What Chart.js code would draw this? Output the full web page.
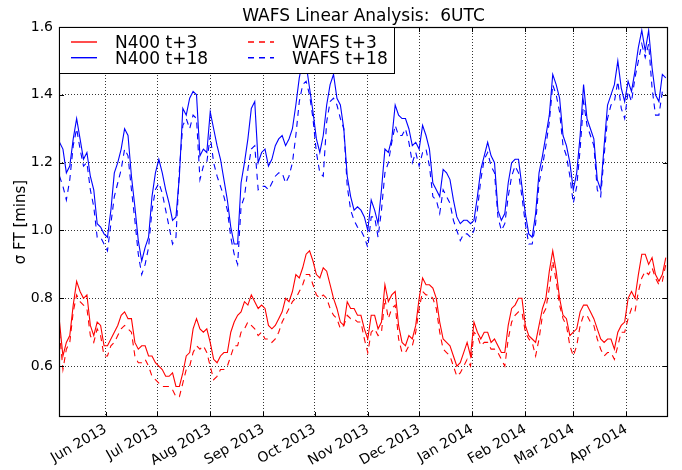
<!DOCTYPE html>
<html>
<head>
<meta charset="utf-8">
<script src="https://cdn.jsdelivr.net/npm/chart.js@4.4.1/dist/chart.umd.min.js"></script>
<style>
  html, body { margin: 0; padding: 0; background: #fff; }
  #chart { display: block; }
</style>
</head>
<body>
<canvas id="chart" width="682" height="470"></canvas>
<script>
// daily-ish series, one value every 2 days from 5 May 2013
const startDate = '2013-05-05';
const stepDays = 2;

const monthTickDates = ['2013-06-01', '2013-07-01', '2013-08-01', '2013-09-01', '2013-10-01', '2013-11-01',
  '2013-12-01', '2014-01-01', '2014-02-01', '2014-03-01', '2014-04-01'];
const monthTickLabels = ['Jun 2013', 'Jul 2013', 'Aug 2013', 'Sep 2013', 'Oct 2013', 'Nov 2013',
  'Dec 2013', 'Jan 2014', 'Feb 2014', 'Mar 2014', 'Apr 2014'];
const yTickValues = [0.6, 0.8, 1.0, 1.2, 1.4, 1.6];

const n400t3 = [
  0.73, 0.63, 0.67, 0.69, 0.78, 0.85, 0.82, 0.80, 0.81, 0.72,
  0.69, 0.73, 0.72, 0.66, 0.66, 0.68, 0.70, 0.72, 0.75, 0.76,
  0.74, 0.74, 0.67, 0.65, 0.66, 0.66, 0.63, 0.63, 0.61, 0.60,
  0.59, 0.57, 0.57, 0.58, 0.54, 0.54, 0.58, 0.63, 0.64, 0.71,
  0.74, 0.71, 0.70, 0.71, 0.67, 0.62, 0.61, 0.63, 0.64, 0.64,
  0.70, 0.73, 0.75, 0.76, 0.79, 0.78, 0.81, 0.79, 0.77, 0.78,
  0.77, 0.72, 0.71, 0.72, 0.74, 0.76, 0.80, 0.79, 0.82, 0.87,
  0.86, 0.89, 0.93, 0.94, 0.91, 0.87, 0.86, 0.89, 0.88, 0.84,
  0.80, 0.77, 0.73, 0.72, 0.79, 0.77, 0.77, 0.75, 0.75, 0.71,
  0.68, 0.75, 0.75, 0.71, 0.73, 0.84, 0.79, 0.81, 0.82, 0.72,
  0.67, 0.66, 0.69, 0.68, 0.72, 0.80, 0.86, 0.84, 0.84, 0.83,
  0.80, 0.73, 0.68, 0.67, 0.66, 0.63, 0.60, 0.61, 0.64, 0.67,
  0.63, 0.73, 0.70, 0.68, 0.70, 0.70, 0.67, 0.68, 0.66, 0.64,
  0.64, 0.72, 0.77, 0.78, 0.80, 0.80, 0.72, 0.69, 0.68, 0.67,
  0.72, 0.77, 0.80, 0.88, 0.94, 0.88, 0.80, 0.75, 0.74, 0.69,
  0.70, 0.71, 0.76, 0.78, 0.78, 0.76, 0.74, 0.71, 0.68, 0.67,
  0.68, 0.68, 0.65, 0.70, 0.72, 0.73, 0.80, 0.82, 0.80, 0.87,
  0.93, 0.93, 0.90, 0.92, 0.87, 0.85, 0.87, 0.92
];

const n400t18 = [
  1.26, 1.24, 1.17, 1.19, 1.27, 1.33, 1.27, 1.21, 1.23, 1.16,
  1.12, 1.02, 1.01, 0.99, 0.98, 1.06, 1.17, 1.20, 1.24, 1.30,
  1.28, 1.16, 1.07, 0.97, 0.91, 0.95, 0.98, 1.10, 1.17, 1.21,
  1.17, 1.12, 1.08, 1.03, 1.04, 1.16, 1.36, 1.34, 1.39, 1.41,
  1.40, 1.22, 1.24, 1.23, 1.35, 1.30, 1.25, 1.21, 1.15, 1.09,
  1.01, 0.96, 0.96, 1.14, 1.20, 1.27, 1.36, 1.38, 1.20, 1.23,
  1.24, 1.19, 1.21, 1.25, 1.27, 1.28, 1.25, 1.27, 1.30, 1.37,
  1.45, 1.50, 1.49, 1.42, 1.35, 1.27, 1.23, 1.28, 1.37, 1.43,
  1.46, 1.39, 1.37, 1.30, 1.16, 1.10, 1.06, 1.07, 1.06, 1.04,
  1.00, 1.09, 1.06, 1.02, 1.12, 1.24, 1.23, 1.27, 1.37, 1.34,
  1.33, 1.33, 1.30, 1.25, 1.26, 1.24, 1.31, 1.28, 1.24, 1.14,
  1.12, 1.10, 1.18, 1.17, 1.15, 1.09, 1.04, 1.02, 1.03, 1.03,
  1.02, 1.03, 1.10, 1.18, 1.22, 1.26, 1.22, 1.20, 1.06, 1.03,
  1.05, 1.14, 1.20, 1.21, 1.21, 1.13, 1.05, 0.99, 0.98, 1.05,
  1.17, 1.22, 1.28, 1.34, 1.46, 1.43, 1.39, 1.28, 1.25, 1.20,
  1.12, 1.17, 1.28, 1.43, 1.33, 1.30, 1.27, 1.15, 1.12, 1.25,
  1.37, 1.40, 1.43, 1.50, 1.42, 1.38, 1.44, 1.41, 1.47, 1.54,
  1.59, 1.53, 1.59, 1.48, 1.40, 1.38, 1.46, 1.45
];

const wafsT3 = [
  0.70, 0.59, 0.65, 0.67, 0.76, 0.81, 0.79, 0.78, 0.77, 0.69,
  0.67, 0.71, 0.69, 0.63, 0.63, 0.66, 0.67, 0.69, 0.71, 0.72,
  0.71, 0.70, 0.63, 0.61, 0.61, 0.62, 0.60, 0.57, 0.56, 0.55,
  0.54, 0.54, 0.54, 0.53, 0.51, 0.51, 0.55, 0.59, 0.60, 0.64,
  0.66, 0.65, 0.66, 0.64, 0.60, 0.56, 0.57, 0.59, 0.59, 0.60,
  0.63, 0.66, 0.66, 0.70, 0.71, 0.73, 0.72, 0.71, 0.69, 0.70,
  0.68, 0.68, 0.67, 0.68, 0.70, 0.73, 0.75, 0.77, 0.79, 0.80,
  0.82, 0.84, 0.87, 0.87, 0.84, 0.81, 0.80, 0.81, 0.80, 0.77,
  0.75, 0.74, 0.71, 0.72, 0.75, 0.74, 0.74, 0.73, 0.73, 0.68,
  0.64, 0.70, 0.71, 0.69, 0.70, 0.80, 0.74, 0.77, 0.78, 0.68,
  0.64, 0.64, 0.66, 0.66, 0.70, 0.77, 0.82, 0.81, 0.81, 0.80,
  0.77, 0.70, 0.65, 0.64, 0.63, 0.60, 0.57, 0.58, 0.60, 0.62,
  0.60, 0.70, 0.69, 0.66, 0.67, 0.67, 0.65, 0.65, 0.64, 0.62,
  0.60, 0.68, 0.73, 0.75, 0.76, 0.76, 0.70, 0.68, 0.67, 0.63,
  0.68, 0.75, 0.77, 0.83, 0.91, 0.85, 0.78, 0.74, 0.72, 0.66,
  0.63, 0.66, 0.72, 0.75, 0.75, 0.73, 0.72, 0.68, 0.65, 0.63,
  0.64, 0.64, 0.62, 0.66, 0.70, 0.70, 0.74, 0.77, 0.76, 0.82,
  0.86, 0.88, 0.87, 0.89, 0.86, 0.84, 0.85, 0.90
];

const wafsT18 = [
  1.16, 1.13, 1.09, 1.15, 1.25, 1.30, 1.24, 1.19, 1.20, 1.12,
  1.07, 0.98, 0.98, 0.96, 0.94, 1.02, 1.10, 1.14, 1.18, 1.24,
  1.22, 1.12, 1.03, 0.93, 0.87, 0.90, 0.95, 1.06, 1.12, 1.14,
  1.11, 1.06, 1.01, 0.96, 0.98, 1.18, 1.31, 1.33, 1.30, 1.34,
  1.33, 1.15, 1.19, 1.20, 1.28, 1.20, 1.16, 1.13, 1.10, 1.06,
  0.98, 0.93, 0.90, 1.07, 1.10, 1.18, 1.24, 1.25, 1.12, 1.13,
  1.13, 1.12, 1.14, 1.16, 1.17, 1.17, 1.14, 1.16, 1.20, 1.28,
  1.38, 1.43, 1.44, 1.40, 1.33, 1.23, 1.17, 1.16, 1.32, 1.38,
  1.39, 1.37, 1.33, 1.30, 1.13, 1.06, 1.03, 1.01, 1.00, 0.98,
  0.95, 1.04, 1.04, 0.98, 1.06, 1.17, 1.20, 1.26, 1.31, 1.28,
  1.28, 1.30, 1.26, 1.20, 1.23, 1.19, 1.23, 1.24, 1.19, 1.10,
  1.09, 1.05, 1.12, 1.10, 1.08, 1.03, 1.00, 0.97, 0.99, 0.99,
  0.98, 1.00, 1.06, 1.15, 1.21, 1.23, 1.19, 1.17, 1.04, 1.00,
  1.02, 1.10, 1.16, 1.19, 1.17, 1.10, 1.02, 0.96, 0.96, 1.02,
  1.14, 1.19, 1.25, 1.32, 1.43, 1.40, 1.35, 1.25, 1.22, 1.16,
  1.08, 1.13, 1.24, 1.38, 1.31, 1.28, 1.25, 1.12, 1.10, 1.22,
  1.33, 1.37, 1.38, 1.44, 1.36, 1.33, 1.41, 1.38, 1.45, 1.50,
  1.55, 1.51, 1.55, 1.42, 1.34, 1.34, 1.41, 1.40
];

function dayOffset(iso) {
  return (Date.parse(iso) - Date.parse(startDate)) / 86400000;
}

function toPoints(values) {
  return values.map((v, i) => ({ x: i * stepDays, y: v }));
}

const RED = '#ff0000';
const BLUE = '#0000ff';
const DASH = [6, 5];

// matplotlib-ish extras: title, y label, inward ticks, frame and boxed legend
const mplDecor = {
  id: 'mplDecor',
  afterDraw(chart) {
    const { ctx, chartArea: a, scales } = chart;
    ctx.save();

    ctx.strokeStyle = '#000';
    ctx.lineWidth = 1;
    ctx.setLineDash([]);
    ctx.beginPath();
    scales.x.ticks.forEach(t => {
      const px = Math.round(scales.x.getPixelForValue(t.value)) + 0.5;
      ctx.moveTo(px, a.bottom); ctx.lineTo(px, a.bottom - 5);
      ctx.moveTo(px, a.top); ctx.lineTo(px, a.top + 5);
    });
    scales.y.ticks.forEach(t => {
      const py = Math.round(scales.y.getPixelForValue(t.value)) + 0.5;
      ctx.moveTo(a.left, py); ctx.lineTo(a.left + 5, py);
      ctx.moveTo(a.right, py); ctx.lineTo(a.right - 5, py);
    });
    ctx.stroke();

    ctx.lineWidth = 1.2;
    ctx.strokeRect(a.left + 0.5, a.top + 0.5, a.right - a.left - 1, a.bottom - a.top - 1);

    // title
    ctx.fillStyle = '#000';
    ctx.font = "17px 'DejaVu Sans'";
    ctx.textAlign = 'center';
    ctx.textBaseline = 'alphabetic';
    ctx.fillText('WAFS Linear Analysis:  6UTC', (a.left + a.right) / 2, 21);

    // y axis label
    ctx.save();
    ctx.translate(21, (a.top + a.bottom) / 2);
    ctx.rotate(-Math.PI / 2);
    ctx.font = "15px 'DejaVu Sans'";
    ctx.textBaseline = 'middle';
    ctx.fillText('\u03c3 FT [mins]', 0, 0);
    ctx.restore();

    // legend box
    const box = { x: a.left + 0.5, y: a.top + 0.5, w: 335, h: 46 };
    ctx.fillStyle = '#fff';
    ctx.fillRect(box.x, box.y, box.w, box.h);
    ctx.lineWidth = 1;
    ctx.strokeStyle = '#000';
    ctx.strokeRect(box.x, box.y, box.w, box.h);

    const ds = chart.data.datasets;
    const cols = [{ x0: a.left + 12, text: a.left + 56 }, { x0: a.left + 189, text: a.left + 233 }];
    const rows = [a.top + 15, a.top + 30.7];
    ds.forEach((d, i) => {
      const col = cols[Math.floor(i / 2)];
      const ry = rows[i % 2];
      ctx.beginPath();
      ctx.setLineDash(d.borderDash || []);
      ctx.strokeStyle = d.borderColor;
      ctx.lineWidth = 1.4;
      ctx.moveTo(col.x0, ry);
      ctx.lineTo(col.x0 + 26, ry);
      ctx.stroke();
      ctx.setLineDash([]);
      ctx.fillStyle = '#000';
      ctx.font = "17px 'DejaVu Sans'";
      ctx.textAlign = 'left';
      ctx.textBaseline = 'alphabetic';
      ctx.fillText(d.label, col.text, ry + 6);
    });

    ctx.restore();
  }
};

const gridStyle = { color: '#000', lineWidth: 0.8, drawTicks: false };
const borderStyle = { display: false, dash: [1, 2] };

const ctx = document.getElementById('chart').getContext('2d');
new Chart(ctx, {
  type: 'line',
  data: {
    datasets: [
      { label: 'N400 t+3', data: toPoints(n400t3), borderColor: RED, order: 3 },
      { label: 'N400 t+18', data: toPoints(n400t18), borderColor: BLUE, order: 2 },
      { label: 'WAFS t+3', data: toPoints(wafsT3), borderColor: RED, borderDash: DASH, order: 1 },
      { label: 'WAFS t+18', data: toPoints(wafsT18), borderColor: BLUE, borderDash: DASH, order: 0 }
    ]
  },
  options: {
    responsive: false,
    animation: false,
    devicePixelRatio: 1,
    layout: { padding: { top: 27, right: 14, left: 0, bottom: 0 } },
    elements: {
      point: { radius: 0 },
      line: { tension: 0, borderWidth: 1.1, fill: false }
    },
    plugins: {
      legend: { display: false },
      title: { display: false },
      tooltip: { enabled: false }
    },
    scales: {
      x: {
        type: 'linear',
        min: -0.3,
        max: 355.3,
        afterBuildTicks: s => { s.ticks = monthTickDates.map(d => ({ value: dayOffset(d) })); },
        afterFit: s => { s.height = 53; },
        grid: gridStyle,
        border: borderStyle,
        ticks: {
          autoSkip: false,
          minRotation: 30,
          maxRotation: 30,
          padding: 4,
          color: '#000',
          font: { size: 14, family: "'DejaVu Sans'" },
          callback: (v, i) => monthTickLabels[i]
        }
      },
      y: {
        min: 0.45,
        max: 1.6,
        afterBuildTicks: s => { s.ticks = yTickValues.map(v => ({ value: v })); },
        afterFit: s => { s.width = 59; },
        grid: gridStyle,
        border: borderStyle,
        ticks: {
          padding: 6,
          color: '#000',
          font: { size: 14, family: "'DejaVu Sans'" },
          callback: v => v.toFixed(1)
        }
      }
    }
  },
  plugins: [mplDecor]
});
</script>
</body>
</html>
